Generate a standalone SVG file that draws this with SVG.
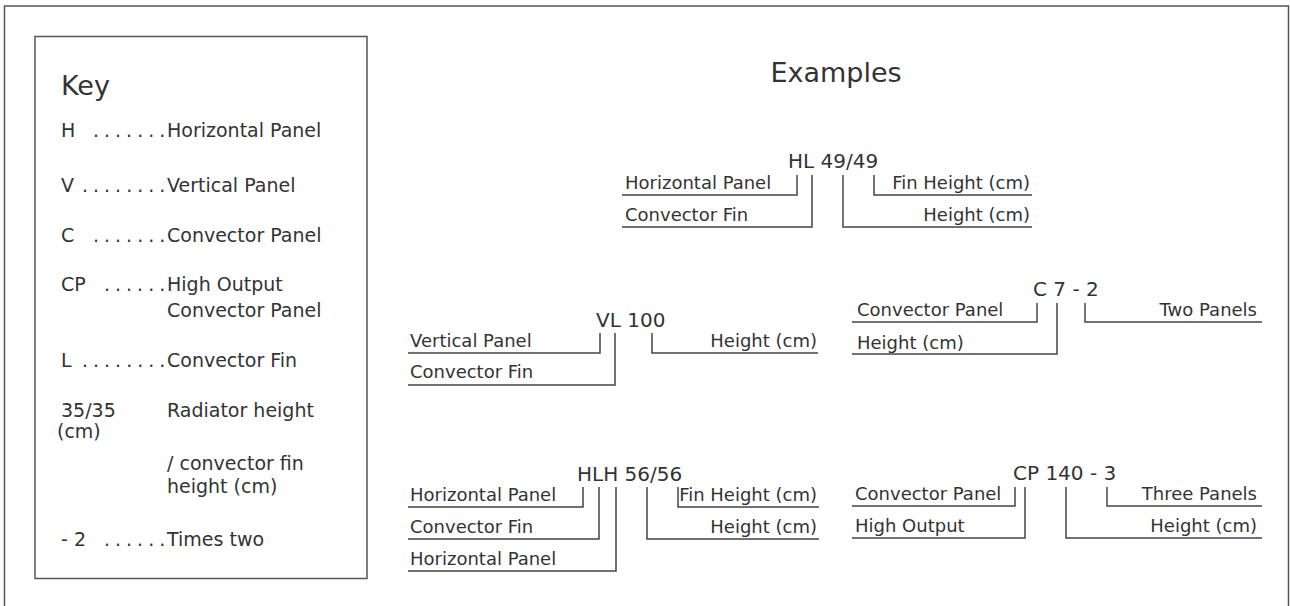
<svg xmlns="http://www.w3.org/2000/svg" width="1290" height="606" viewBox="0 0 1290 606">
<style>
text{font-family:"DejaVu Sans","Liberation Sans",sans-serif;fill:#333}
.k{font-size:19px}
.t{font-size:27px}
.e{font-size:18px}
.c{font-size:20px}
.dots{letter-spacing:5px}
.r{text-anchor:end}
.ln{fill:none;stroke:#444;stroke-width:1.5}
.frame{fill:none;stroke:#555;stroke-width:1.5}
</style>
<rect width="1290" height="606" fill="#fff"/>
<rect class="frame" x="4.5" y="6" width="1284" height="640"/>
<g id="key">
<rect class="frame" x="35" y="36.5" width="332" height="542"/>
<text class="t" x="61" y="95">Key</text>
<text class="k" x="61" y="137">H</text><text class="k dots" x="93" y="137">.......</text><text class="k" x="167" y="137">Horizontal Panel</text>
<text class="k" x="61" y="192">V</text><text class="k dots" x="82" y="192">........</text><text class="k" x="167" y="192">Vertical Panel</text>
<text class="k" x="61" y="242">C</text><text class="k dots" x="93" y="242">.......</text><text class="k" x="167" y="242">Convector Panel</text>
<text class="k" x="61" y="291">CP</text><text class="k dots" x="104" y="291">......</text><text class="k" x="167" y="291">High Output</text>
<text class="k" x="167" y="317">Convector Panel</text>
<text class="k" x="61" y="367">L</text><text class="k dots" x="82" y="367">........</text><text class="k" x="167" y="367">Convector Fin</text>
<text class="k" x="61" y="417">35/35</text><text class="k" x="167" y="417">Radiator height</text>
<text class="k" x="57" y="438">(cm)</text>
<text class="k" x="167" y="470">/ convector fin</text>
<text class="k" x="167" y="493">height (cm)</text>
<text class="k" x="61" y="546">- 2</text><text class="k dots" x="104" y="546">......</text><text class="k" x="167" y="546">Times two</text>
</g>
<text class="t" x="836" y="82" text-anchor="middle">Examples</text>
<g id="ex-hl">
<text class="c" x="788" y="168">HL 49/49</text>
<text class="e" x="625" y="189">Horizontal Panel</text>
<text class="e" x="625" y="221">Convector Fin</text>
<text class="e r" x="1030" y="189">Fin Height (cm)</text>
<text class="e r" x="1030" y="221">Height (cm)</text>
</g>
<g id="ex-vl">
<text class="c" x="596" y="327">VL 100</text>
<text class="e" x="410" y="347">Vertical Panel</text>
<text class="e" x="410" y="378">Convector Fin</text>
<text class="e r" x="817" y="347">Height (cm)</text>
</g>
<g id="ex-c">
<text class="c" x="1033" y="296">C 7 - 2</text>
<text class="e" x="857" y="316">Convector Panel</text>
<text class="e" x="857" y="349">Height (cm)</text>
<text class="e r" x="1257" y="316">Two Panels</text>
</g>
<g id="ex-hlh">
<text class="c" x="577" y="481">HLH 56/56</text>
<text class="e" x="410" y="501">Horizontal Panel</text>
<text class="e" x="410" y="533">Convector Fin</text>
<text class="e" x="410" y="565">Horizontal Panel</text>
<text class="e r" x="817" y="501">Fin Height (cm)</text>
<text class="e r" x="817" y="533">Height (cm)</text>
</g>
<g id="ex-cp">
<text class="c" x="1013" y="480">CP 140 - 3</text>
<text class="e" x="855" y="500">Convector Panel</text>
<text class="e" x="855" y="532">High Output</text>
<text class="e r" x="1257" y="500">Three Panels</text>
<text class="e r" x="1257" y="532">Height (cm)</text>
</g>
<g id="connectors">
<path class="ln" d="M622 195H797V175M622 227H812V175M843 175V227H1032M874 175V195H1032"/>
<path class="ln" d="M408 353H600V333M408 385H615V333M652 333V353H818"/>
<path class="ln" d="M852 322H1037V303M852 354H1057V303M1085 303V322H1262"/>
<path class="ln" d="M408 507H583V487M408 539H599V487M408 571H616V487M647 487V539H819M678 487V507H819"/>
<path class="ln" d="M852 506H1015V487M852 538H1025V487M1066 487V538H1262M1107 487V506H1262"/>
</g>
</svg>
